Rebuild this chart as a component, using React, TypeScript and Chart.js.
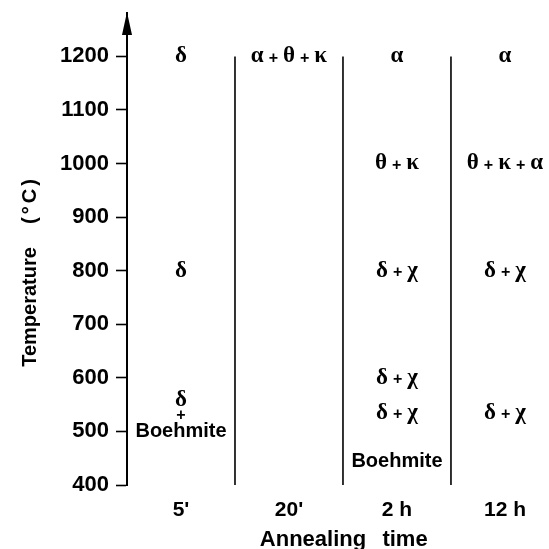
import React, { useEffect, useRef } from "react";
import { Chart, registerables } from "chart.js";
Chart.register(...registerables);

// Annealing time columns
const timeLabels = ["5'", "20'", "2 h", "12 h"];
const timePositions = [0.5, 1.5, 2.5, 3.5];
const boundaryPositions = [1, 2, 3];

// Temperature axis
const tempTicks = [400, 500, 600, 700, 800, 900, 1000, 1100, 1200];
const tempMin = 400;
const tempMax = 1281;
const boundaryBottom = 400;
const boundaryTop = 1200;

// Phase annotations: column index, temperature, text
const phaseColumns = [0, 0, 0, 0, 0, 1, 2, 2, 2, 2, 2, 2, 3, 3, 3, 3];
const phaseTemps = [1200, 800, 558, 530, 500, 1200, 1200, 1000, 800, 600, 535, 443, 1200, 1000, 800, 535];
const phaseTexts = [
  "δ", "δ", "δ", "+", "Boehmite",
  "α + θ + κ",
  "α", "θ + κ", "δ + χ", "δ + χ", "δ + χ", "Boehmite",
  "α", "θ + κ + α", "δ + χ", "δ + χ",
];

const SANS = "'Liberation Sans', Arial, sans-serif";
const SERIF = "'Liberation Serif', 'Times New Roman', serif";
const GREEK_FONT = `bold 23px ${SERIF}`;
const PLUS_FONT = `bold 16px ${SANS}`;
const GAP = 5;

function drawFormula(ctx: any, text: string, cx: number, cy: number) {
  const parts = text.split(" + ");
  const widths: number[] = [];
  ctx.font = PLUS_FONT;
  const plusW = ctx.measureText("+").width;
  ctx.font = GREEK_FONT;
  let total = 0;
  parts.forEach((p, i) => {
    const w = ctx.measureText(p).width;
    widths.push(w);
    total += w;
    if (i > 0) total += plusW + 2 * GAP;
  });
  let x = cx - total / 2;
  ctx.textAlign = "left";
  parts.forEach((p, i) => {
    if (i > 0) {
      x += GAP;
      ctx.font = PLUS_FONT;
      ctx.fillText("+", x, cy + 2);
      x += plusW + GAP;
    }
    ctx.font = GREEK_FONT;
    ctx.fillText(p, x, cy);
    x += widths[i];
  });
}

const overlayPlugin = {
  id: "overlay",
  afterDatasetsDraw(chart: any) {
    const { ctx, chartArea, scales } = chart;
    const xs = scales.x;
    const ys = scales.y;
    ctx.save();
    ctx.fillStyle = "#000";
    // arrow head on y axis
    const ax = chartArea.left;
    ctx.beginPath();
    ctx.moveTo(ax, chartArea.top - 1);
    ctx.lineTo(ax - 5, chartArea.top + 22);
    ctx.lineTo(ax + 5, chartArea.top + 22);
    ctx.closePath();
    ctx.fill();

    // phase labels
    ctx.textBaseline = "middle";
    for (let i = 0; i < phaseTexts.length; i++) {
      const t = phaseTexts[i];
      const x = xs.getPixelForValue(timePositions[phaseColumns[i]]);
      const y = ys.getPixelForValue(phaseTemps[i]);
      if (/[A-Za-z]/.test(t)) {
        ctx.textAlign = "center";
        ctx.font = `bold 20px ${SANS}`;
        ctx.fillText(t, x, y);
      } else if (t === "+") {
        ctx.textAlign = "center";
        ctx.font = PLUS_FONT;
        ctx.fillText(t, x, y);
      } else {
        drawFormula(ctx, t, x, y);
      }
    }

    // axis titles
    ctx.textAlign = "center";
    ctx.font = `bold 22px ${SANS}`;
    ctx.fillText("Annealing", 313, 540);
    ctx.fillText("time", 405, 540);
    ctx.save();
    ctx.translate(30, 0);
    ctx.rotate(-Math.PI / 2);
    ctx.font = `bold 20px ${SANS}`;
    ctx.fillText("Temperature", -307, 0);
    (ctx as any).letterSpacing = "3px";
    ctx.fillText("(°C)", -200, 0);
    ctx.restore();
    ctx.restore();
  },
};

export default function App() {
  const ref = useRef<HTMLCanvasElement>(null);
  useEffect(() => {
    if (!ref.current) return;
    const datasets = boundaryPositions.map((b) => ({
      data: [
        { x: b, y: boundaryBottom },
        { x: b, y: boundaryTop },
      ],
      showLine: true,
      borderColor: "#000",
      borderWidth: 1.6,
      pointRadius: 0,
      fill: false,
    }));
    const chart = new Chart(ref.current, {
      type: "scatter",
      data: { datasets },
      plugins: [overlayPlugin],
      options: {
        animation: false,
        responsive: false,
        maintainAspectRatio: false,
        layout: { padding: { left: 0, right: 3, top: 13, bottom: 0 } },
        plugins: { legend: { display: false }, tooltip: { enabled: false } },
        scales: {
          x: {
            type: "linear",
            min: 0,
            max: 3.88,
            grid: { display: false, drawTicks: false },
            border: { display: false },
            afterBuildTicks: (s: any) => {
              s.ticks = timePositions.map((v) => ({ value: v }));
            },
            afterFit: (s: any) => {
              s.height = 64;
              s.paddingLeft = 0;
              s.paddingRight = 0;
            },
            ticks: {
              autoSkip: false,
              maxRotation: 0,
              padding: 13,
              color: "#000",
              font: { family: SANS, weight: "bold", size: 21 },
              callback: (v: any) => {
                const i = timePositions.indexOf(Number(v));
                return i >= 0 ? timeLabels[i] : "";
              },
            },
          },
          y: {
            type: "linear",
            min: tempMin,
            max: tempMax,
            afterBuildTicks: (s: any) => {
              s.ticks = tempTicks.map((v) => ({ value: v }));
            },
            afterFit: (s: any) => {
              s.width = 127;
              s.paddingTop = 0;
              s.paddingBottom = 0;
            },
            grid: {
              display: true,
              drawOnChartArea: false,
              drawTicks: true,
              tickLength: 11,
              tickWidth: 1.6,
              tickColor: "#000",
            },
            border: { display: true, color: "#000", width: 2 },
            ticks: {
              padding: 7,
              color: "#000",
              font: { family: SANS, weight: "bold", size: 22 },
              callback: (v: any) => String(v),
            },
          },
        },
      } as any,
    });
    return () => chart.destroy();
  }, []);
  return (
    <div style={{ position: "fixed", left: 0, top: 0, width: 549, height: 549, background: "#fff" }}>
      <canvas ref={ref} width={549} height={549} style={{ display: "block" }} />
    </div>
  );
}
